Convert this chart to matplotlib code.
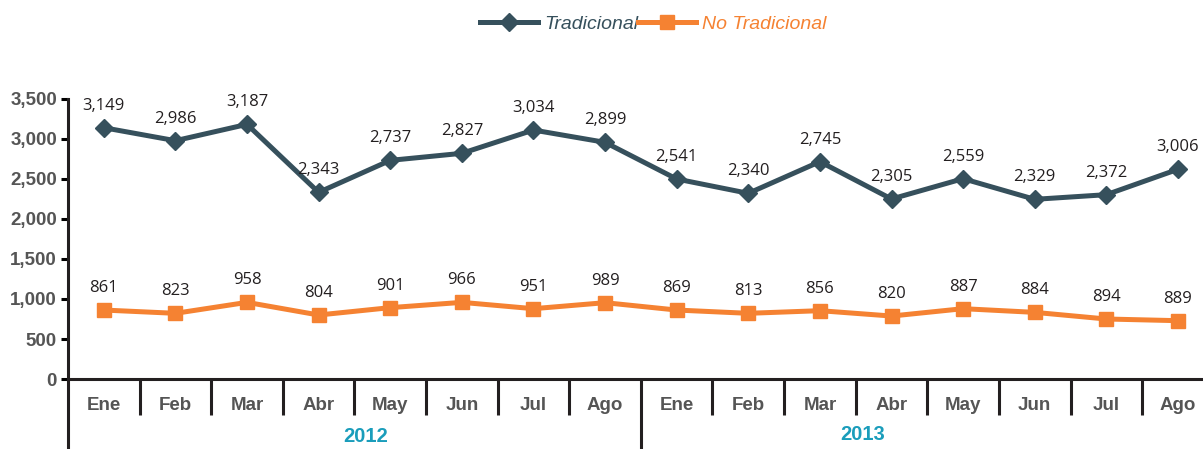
import matplotlib
matplotlib.use('Agg')
import matplotlib.pyplot as plt

# Data
months = ['Ene', 'Feb', 'Mar', 'Abr', 'May', 'Jun', 'Jul', 'Ago',
          'Ene', 'Feb', 'Mar', 'Abr', 'May', 'Jun', 'Jul', 'Ago']
years = ['2012', '2013']
# plotted marker heights (as drawn)
trad = [3141, 2979, 3183, 2333, 2733, 2821, 3112, 2958,
        2500, 2321, 2717, 2250, 2504, 2246, 2304, 2621]
notrad = [862, 821, 958, 800, 892, 958, 879, 954,
          862, 821, 854, 787, 879, 833, 750, 729]
# printed data labels
trad_labels = [3149, 2986, 3187, 2343, 2737, 2827, 3034, 2899,
               2541, 2340, 2745, 2305, 2559, 2329, 2372, 3006]
notrad_labels = [861, 823, 958, 804, 901, 966, 951, 989,
                 869, 813, 856, 820, 887, 884, 894, 889]

dark = '#36505c'
orange = '#f58232'
gray = '#555555'
teal = '#1a9dbb'

fig = plt.figure(figsize=(12.03, 4.49), dpi=100)
ax = fig.add_axes([68 / 1203, 70 / 449, 1 - 68 / 1203, 280 / 449])

x = list(range(len(months)))
ax.plot(x, trad, color=dark, lw=3.6, marker='D', ms=9.5, label='Tradicional')
ax.plot(x, notrad, color=orange, lw=3.6, marker='s', ms=9.5, label='No Tradicional')

for xi, yi, lab in zip(x, trad, trad_labels):
    ax.annotate(f'{lab:,}', (xi, yi), xytext=(0, 10), textcoords='offset points',
                ha='center', va='bottom', fontsize=12, color='#231f20',
                family='Open Sans')
for xi, yi, lab in zip(x, notrad, notrad_labels):
    ax.annotate(f'{lab:,}', (xi, yi), xytext=(0, 10), textcoords='offset points',
                ha='center', va='bottom', fontsize=12, color='#231f20',
                family='Open Sans')

ax.set_xlim(-0.5, 15.35)
ax.set_ylim(0, 3500)
ax.set_yticks(range(0, 3501, 500))
ax.set_yticklabels([f'{v:,}' for v in range(0, 3501, 500)])
ax.tick_params(axis='y', direction='out', length=5, width=2.2, pad=3,
               labelsize=13.5, labelcolor=gray)
for t in ax.get_yticklabels():
    t.set_fontweight('bold')
    t.set_family('Liberation Sans')
ax.set_xticks([])
for s in ['top', 'right']:
    ax.spines[s].set_visible(False)
for s in ['left', 'bottom']:
    ax.spines[s].set_linewidth(2.2)
    ax.spines[s].set_color('#231f20')

tr = ax.get_xaxis_transform()
# month separators
for i in range(len(months) - 1):
    bottom = -0.25 if i == 7 else -0.13
    ax.plot([i + 0.5, i + 0.5], [0, bottom], color='#231f20', lw=2.2,
            transform=tr, clip_on=False, solid_capstyle='butt')
ax.plot([-0.5, -0.5], [0, -0.25], color='#231f20', lw=2.2,
        transform=tr, clip_on=False, solid_capstyle='butt')

for i, m in enumerate(months):
    ax.text(i, -0.093, m, transform=tr, ha='center', va='center',
            fontsize=13.5, fontweight='bold', color=gray, family='Liberation Sans')

for xp, yp, yr in [(3.65, -0.207, years[0]), (10.6, -0.197, years[1])]:
    ax.text(xp, yp, yr, transform=tr, ha='center', va='center',
            fontsize=14.5, fontweight='bold', color=teal, family='Liberation Sans')

leg = fig.legend(loc='upper center', bbox_to_anchor=(0.543, 1.005), ncol=2,
                 frameon=False, handlelength=3.0, handletextpad=0.3,
                 columnspacing=0.0, prop={'family': 'Liberation Sans',
                                          'style': 'italic', 'size': 14})
for txt, c in zip(leg.get_texts(), [dark, orange]):
    txt.set_color(c)

fig.savefig('out.png', dpi=100)
